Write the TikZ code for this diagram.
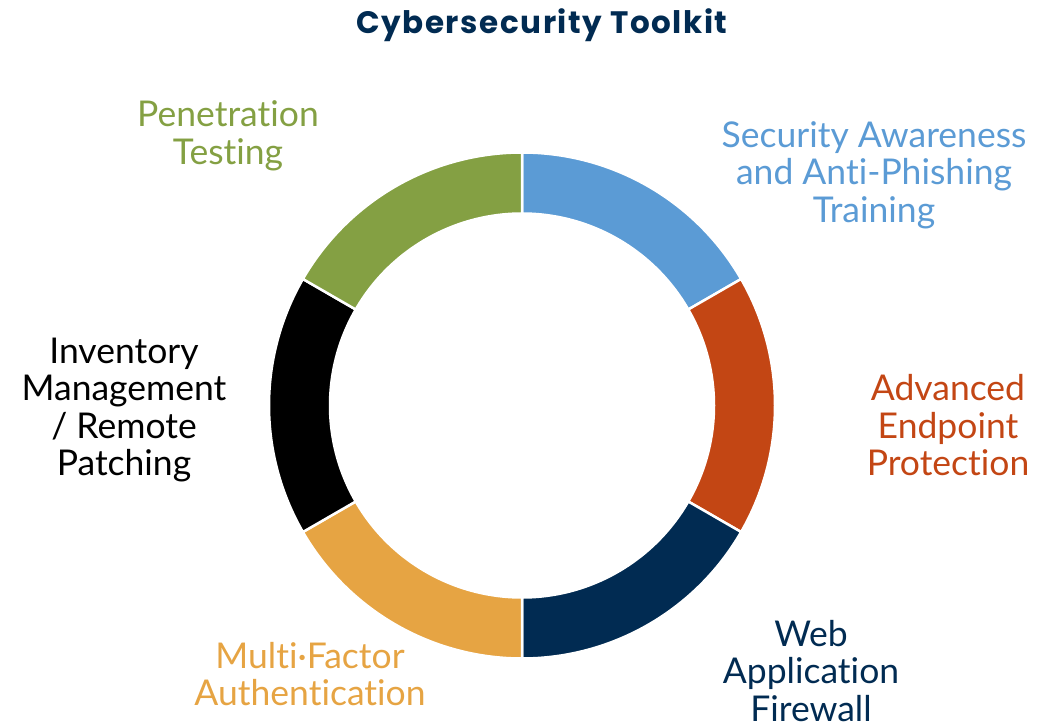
\documentclass[tikz,border=0pt]{standalone}
\usepackage{fontspec}
\setmainfont{Lato}[Ligatures=NoCommon]
\newfontfamily\headfont{Poppins}[LetterSpace=5]
\usetikzlibrary{positioning}
\definecolor{kitblue}{HTML}{5B9BD5}
\definecolor{kitorange}{HTML}{C34614}
\definecolor{kitnavy}{HTML}{012B52}
\definecolor{kitgold}{HTML}{E6A443}
\definecolor{kitgreen}{HTML}{84A043}
\tikzset{
    seg/.style={draw=white,line width=2.5pt},
    lbl/.style={align=center,inner sep=0pt,font=\fontsize{35.5}{37.5}\selectfont},
    ttl/.style={inner sep=0pt,font=\headfont\bfseries\fontsize{31}{34}\selectfont,text=kitnavy},
}

\begin{document}
\begin{tikzpicture}[x=1pt,y=1pt]
    \useasboundingbox (0,0) rectangle (1047,724);
    \coordinate (c) at (522,318.5);

    % ring, one segment per tool
    \foreach \a/\b/\col in {90/30/kitblue,30/-30/kitorange,-30/-90/kitnavy,
                            -90/-150/kitgold,-150/-210/black,150/90/kitgreen}
        \fill[seg,fill=\col,shift={(c)}] (\a:253) arc[start angle=\a,end angle=\b,radius=253]
            -- (\b:192) arc[start angle=\b,end angle=\a,radius=192] -- cycle;

    \node[ttl] (title) at (542,699) {Cybersecurity Toolkit};

    \node[lbl,text=kitblue] (train) at (874,549) {Security Awareness\\and Anti-Phishing\\Training};
    \node[lbl,text=kitorange] (edr) at (948,298.5) {Advanced\\Endpoint\\Protection};
    \node[lbl,text=kitnavy] (waf) at (811,53) {Web\\Application\\Firewall};
    \node[lbl,text=kitgold] (mfa) at (310,50) {Multi·Factor\\Authentication};
    \node[lbl,text=black] (inv) at (124,314) {Inventory\\Management\\/ Remote\\Patching};
    \node[lbl,text=kitgreen] (pen) at (228,588) {Penetration\\Testing};
\end{tikzpicture}
\end{document}
